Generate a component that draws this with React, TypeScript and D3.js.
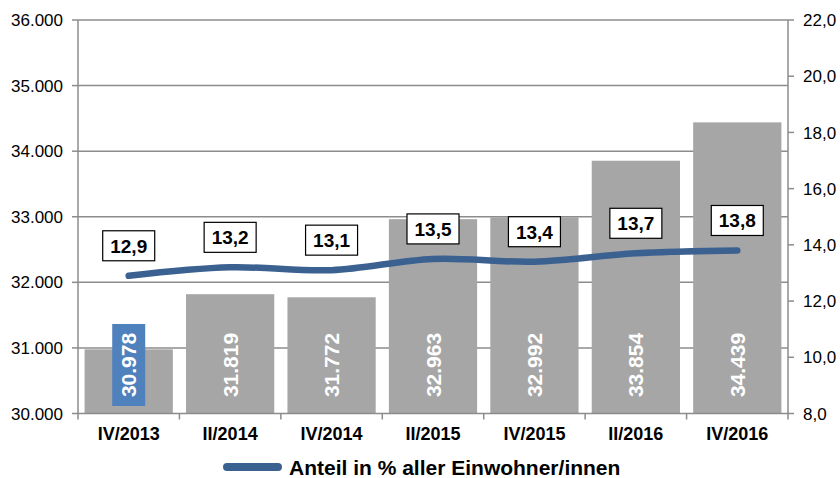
import React, { useEffect, useRef } from "react";
import * as d3 from "d3";

const categories = ["IV/2013", "II/2014", "IV/2014", "II/2015", "IV/2015", "II/2016", "IV/2016"];
const residents = [30978, 31819, 31772, 32963, 32992, 33854, 34439];
const share = [12.9, 13.2, 13.1, 13.5, 13.4, 13.7, 13.8];
const leftTicks = [30000, 31000, 32000, 33000, 34000, 35000, 36000];
const rightTicks = [8, 10, 12, 14, 16, 18, 20, 22];
const legendLabel = "Anteil in % aller Einwohner/innen";

const W = 840;
const H = 478;
const FONT = "Liberation Sans, Arial, sans-serif";
const AXIS = "#8c8c8c";
const BAR = "#a6a6a6";
const LINE = "#3b6191";
const HIGHLIGHT = "#4f81bd";

const fmtDe = (n: number) => d3.format(",")(n).replace(/,/g, ".");
const fmtComma = (n: number) => n.toFixed(1).replace(".", ",");

export default function App() {
  const ref = useRef<SVGSVGElement>(null);

  useEffect(() => {
    const svg = d3.select(ref.current);
    svg.selectAll("*").remove();

    const left = 78, right = 788, top = 20, bottom = 413.5;

    const x = d3.scaleBand().domain(categories).range([left, right]).paddingInner(0.13).paddingOuter(0.065);
    const y = d3.scaleLinear().domain([30000, 36000]).range([bottom, top]);
    const y2 = d3.scaleLinear().domain([8, 22]).range([bottom, top]);

    // gridlines
    svg.append("g").selectAll("line").data(leftTicks.slice(1)).join("line")
      .attr("x1", left).attr("x2", right)
      .attr("y1", d => y(d)).attr("y2", d => y(d))
      .attr("stroke", AXIS).attr("stroke-width", 1.5);

    // bars
    svg.append("g").selectAll("rect").data(residents).join("rect")
      .attr("x", (d, i) => x(categories[i])!)
      .attr("width", x.bandwidth())
      .attr("y", d => y(d))
      .attr("height", d => bottom - y(d))
      .attr("fill", BAR);

    // highlighted first bar label
    const cx0 = x(categories[0])! + x.bandwidth() / 2;
    svg.append("rect")
      .attr("x", cx0 - 16.5).attr("y", 324).attr("width", 33).attr("height", 82)
      .attr("fill", HIGHLIGHT);

    // bar value labels
    svg.append("g").selectAll("text").data(residents).join("text")
      .attr("transform", (d, i) => `translate(${x(categories[i])! + x.bandwidth() / 2},365) rotate(-90)`)
      .attr("text-anchor", "middle")
      .attr("dy", "0.36em")
      .attr("fill", "#fff")
      .attr("font-family", FONT)
      .attr("font-weight", "bold")
      .attr("font-size", 21)
      .text(d => fmtDe(d));

    // axes
    svg.append("line").attr("x1", left).attr("x2", left).attr("y1", top).attr("y2", bottom)
      .attr("stroke", AXIS).attr("stroke-width", 1.5);
    svg.append("line").attr("x1", right).attr("x2", right).attr("y1", top).attr("y2", bottom)
      .attr("stroke", AXIS).attr("stroke-width", 1.5);
    svg.append("line").attr("x1", left).attr("x2", right).attr("y1", bottom).attr("y2", bottom)
      .attr("stroke", AXIS).attr("stroke-width", 1.5);

    const lt = svg.append("g");
    lt.selectAll("line").data(leftTicks).join("line")
      .attr("x1", left - 6).attr("x2", left).attr("y1", d => y(d)).attr("y2", d => y(d))
      .attr("stroke", AXIS).attr("stroke-width", 1.5);
    lt.selectAll("text").data(leftTicks).join("text")
      .attr("x", 63).attr("y", d => y(d)).attr("dy", "0.36em")
      .attr("text-anchor", "end").attr("font-family", FONT).attr("font-size", 17).attr("fill", "#000")
      .text(d => fmtDe(d));

    const rt = svg.append("g");
    rt.selectAll("line").data(rightTicks).join("line")
      .attr("x1", right).attr("x2", right + 6).attr("y1", d => y2(d)).attr("y2", d => y2(d))
      .attr("stroke", AXIS).attr("stroke-width", 1.5);
    rt.selectAll("text").data(rightTicks).join("text")
      .attr("x", 803).attr("y", d => y2(d)).attr("dy", "0.36em")
      .attr("text-anchor", "start").attr("font-family", FONT).attr("font-size", 17).attr("fill", "#000")
      .text(d => fmtComma(d));

    // category ticks and labels
    const bounds = d3.range(categories.length + 1).map(i => left + i * (right - left) / categories.length);
    svg.append("g").selectAll("line").data(bounds).join("line")
      .attr("x1", d => d).attr("x2", d => d).attr("y1", bottom).attr("y2", bottom + 6)
      .attr("stroke", AXIS).attr("stroke-width", 1.5);
    svg.append("g").selectAll("text").data(categories).join("text")
      .attr("x", d => x(d)! + x.bandwidth() / 2).attr("y", 434).attr("dy", "0.36em")
      .attr("text-anchor", "middle").attr("font-family", FONT).attr("font-size", 18)
      .attr("font-weight", "bold").attr("fill", "#000")
      .text(d => d);

    // line series
    const pts: [number, number][] = share.map((v, i) => [x(categories[i])! + x.bandwidth() / 2, y2(v)]);
    svg.append("path")
      .attr("d", d3.line().curve(d3.curveCatmullRom.alpha(0.5))(pts)!)
      .attr("fill", "none").attr("stroke", LINE).attr("stroke-width", 6.5)
      .attr("stroke-linecap", "round");

    // line labels
    const lg = svg.append("g").selectAll("g").data(share).join("g")
      .attr("transform", (d, i) => `translate(${pts[i][0]},${pts[i][1] - 30})`);
    lg.append("rect").attr("x", -26).attr("y", -15).attr("width", 52).attr("height", 30)
      .attr("fill", "#fff").attr("stroke", "#000").attr("stroke-width", 1.2);
    lg.append("text").attr("text-anchor", "middle").attr("dy", "0.36em")
      .attr("font-family", FONT).attr("font-size", 19).attr("font-weight", "bold").attr("fill", "#000")
      .text(d => fmtComma(d));

    // legend
    svg.append("line").attr("x1", 227).attr("x2", 278).attr("y1", 467).attr("y2", 467)
      .attr("stroke", LINE).attr("stroke-width", 8).attr("stroke-linecap", "round");
    svg.append("text").attr("x", 289).attr("y", 467).attr("dy", "0.36em")
      .attr("font-family", FONT).attr("font-size", 21).attr("font-weight", "bold").attr("fill", "#000")
      .text(legendLabel);
  }, []);

  return (
    <svg ref={ref} width={W} height={H} style={{ position: "absolute", left: 0, top: 0, background: "#fff" }} />
  );
}
